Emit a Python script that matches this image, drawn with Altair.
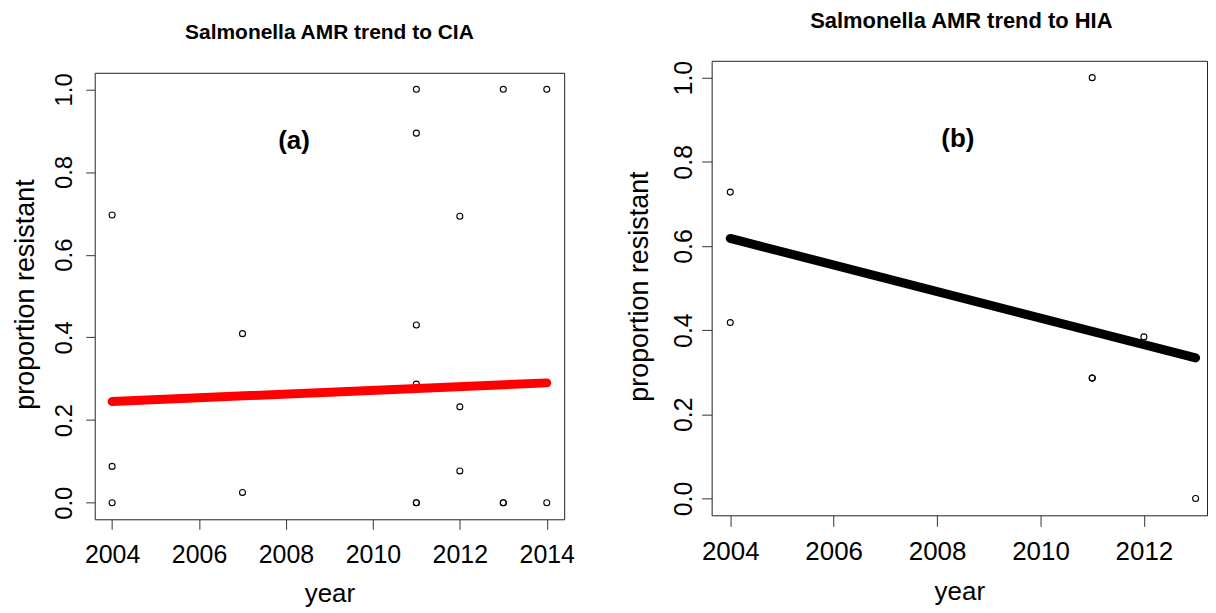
import altair as alt
import pandas as pd

FONT = "Liberation Sans"

# ---------------- data ----------------
# Panel (a): Salmonella AMR trend to CIA
a_years = [2004, 2004, 2004, 2007, 2007, 2011, 2011, 2011, 2011, 2011, 2011,
           2012, 2012, 2012, 2013, 2013, 2013, 2014, 2014]
a_props = [0.696, 0.088, 0.0, 0.409, 0.025, 1.0, 0.894, 0.430, 0.287, 0.0, 0.0,
           0.693, 0.232, 0.077, 1.0, 0.0, 0.0, 1.0, 0.0]
a_trend_years = [2004, 2014]
a_trend_vals = [0.245, 0.290]
a_xticks = [2004, 2006, 2008, 2010, 2012, 2014]

# Panel (b): Salmonella AMR trend to HIA
b_years = [2004, 2004, 2011, 2011, 2011, 2012, 2013]
b_props = [0.728, 0.418, 1.0, 0.286, 0.286, 0.384, 0.0]
b_trend_years = [2004, 2013]
b_trend_vals = [0.618, 0.334]
b_xticks = [2004, 2006, 2008, 2010, 2012]

yticks = [0.0, 0.2, 0.4, 0.6, 0.8, 1.0]

title_a = "Salmonella AMR trend to CIA"
title_b = "Salmonella AMR trend to HIA"


def panel(years, props, tyears, tvals, line_color, xdom, xticks, w, h,
          lab_size, tick_x, tick_y, lab_pad_y, ytitle_x, xtitle_y, tag,
          tag_x, tag_y, title=None, title_y=None):
    pts = pd.DataFrame({"year": years, "prop": props})
    trend = pd.DataFrame({"year": tyears, "prop": tvals})
    x = alt.X("year:Q",
              scale=alt.Scale(domain=xdom, nice=False, zero=False),
              axis=alt.Axis(values=xticks, format="d", title="year",
                            domain=False, grid=False, tickSize=tick_x,
                            tickColor="#333", tickWidth=1,
                            labelFont=FONT, labelFontSize=lab_size,
                            labelColor="black", labelAlign="center",
                            labelBaseline="alphabetic", labelPadding=33,
                            labelFlush=False, labelOverlap=False,
                            titleFont=FONT, titleFontSize=26,
                            titleFontWeight="normal", titleColor="black",
                            titleBaseline="alphabetic", titleAlign="center",
                            titleX=w / 2, titleY=xtitle_y))
    y = alt.Y("prop:Q",
              scale=alt.Scale(domain=[-0.04, 1.04], nice=False, zero=False),
              axis=alt.Axis(values=yticks, format=".1f",
                            title="proportion resistant",
                            domain=False, grid=False, tickSize=tick_y,
                            tickColor="#333", tickWidth=1,
                            labelFont=FONT, labelFontSize=lab_size - 1,
                            labelColor="black", labelAngle=270,
                            labelAlign="center", labelBaseline="alphabetic",
                            labelPadding=lab_pad_y, labelFlush=False,
                            labelOverlap=False,
                            titleFont=FONT, titleFontSize=27,
                            titleFontWeight="normal", titleColor="black",
                            titleAngle=270, titleBaseline="alphabetic",
                            titleAlign="center", titleX=ytitle_x,
                            titleY=h / 2 - 2))
    points = alt.Chart(pts).mark_point(
        shape="circle", filled=False, size=36, strokeWidth=1.1,
        color="black", opacity=1).encode(x=x, y=y)
    line = alt.Chart(trend).mark_line(
        color=line_color, strokeWidth=9, strokeCap="round",
        strokeJoin="round").encode(x=x, y=y)
    tag_df = pd.DataFrame({"t": [tag]})
    tagm = alt.Chart(tag_df).mark_text(
        font=FONT, fontSize=26, fontWeight="bold", color="black",
        align="center", baseline="alphabetic").encode(
        text="t:N", x=alt.value(tag_x), y=alt.value(tag_y))
    layers = [points, line, tagm]
    if title is not None:
        tdf = pd.DataFrame({"t": [title]})
        layers.append(alt.Chart(tdf).mark_text(
            font=FONT, fontSize=22, fontWeight="bold", color="black",
            align="center", baseline="alphabetic").encode(
            text="t:N", x=alt.value(w / 2 + 2), y=alt.value(title_y)))
    return alt.layer(*layers).properties(
        width=w, height=h,
        view=alt.ViewBackground(stroke="#222", strokeWidth=1, fill="white"))


# Panel (a) with its title in a small header view above it
a_chart = panel(a_years, a_props, a_trend_years, a_trend_vals, "#ff0000",
                [2003.6, 2014.4], a_xticks, 471, 448, 25, 10, 9, 14, -61, 82,
                "(a)", 200, 76)
head_a = alt.Chart(pd.DataFrame({"t": [title_a]})).mark_text(
    font=FONT, fontSize=21, fontWeight="bold", color="black",
    align="center", baseline="alphabetic").encode(
    text="t:N", x=alt.value(235.5), y=alt.value(-22)).properties(
    width=471, height=10,
    view=alt.ViewBackground(stroke="transparent", fill="transparent"))
left = alt.vconcat(head_a, a_chart, spacing=0)

b_chart = panel(b_years, b_props, b_trend_years, b_trend_vals, "#000000",
                [2003.64, 2013.22], b_xticks, 497, 456, 26, 11, 10, 10, -64.7,
                84, "(b)", 247, 86, title=title_b, title_y=-33)

chart = alt.hconcat(left, b_chart, spacing=49).properties(
    padding={"left": 3, "top": 0, "right": 0, "bottom": 0},
    background="white")

chart.save("out.html", embed_options={"renderer": "svg", "actions": False})
